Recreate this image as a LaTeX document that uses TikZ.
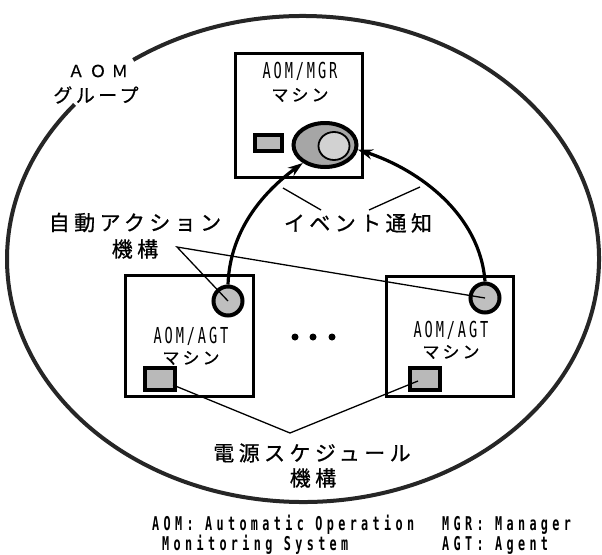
\documentclass[tikz,border=0pt]{standalone}
\usepackage{fontspec}
\usetikzlibrary{arrows.meta,shapes.geometric}
\newfontfamily\jpw[LetterSpace=21,FakeBold=0.8]{Noto Sans CJK JP}
\newfontfamily\jpm[LetterSpace=18,FakeBold=0.6]{Noto Sans CJK JP}
\newfontfamily\jpaom[LetterSpace=32,FakeBold=0.6]{Noto Sans CJK JP}
\newfontfamily\labf[FakeStretch=0.62,LetterSpace=13]{DejaVu Sans Mono}
\newfontfamily\notef[FakeStretch=0.62,LetterSpace=23]{DejaVu Sans Mono}
\tikzset{
  group/.style={line width=4pt, draw=black!85},
  machine/.style={draw, line width=2.4pt, inner sep=0pt},
  sched/.style={draw, line width=4pt, fill=gray!55, inner sep=0pt},
  act/.style={circle, draw, line width=4pt, fill=gray!50, inner sep=0pt, minimum size=29pt},
  evt/.style={line width=3.2pt, -{Stealth[length=15pt,width=10pt]}},
  leader/.style={line width=1.3pt},
  jpbig/.style={inner sep=0pt, font=\jpw\fontsize{21pt}{21pt}\selectfont},
  jpsmall/.style={inner sep=0pt, font=\jpm\fontsize{17pt}{17pt}\selectfont},
  labtxt/.style={inner sep=0pt, font=\labf\fontsize{22pt}{22pt}\selectfont},
  notetxt/.style={inner sep=0pt, font=\notef\bfseries\fontsize{19pt}{19pt}\selectfont},
  dotn/.style={circle, fill=black, inner sep=0pt, minimum size=7pt}
}
\begin{document}
\begin{tikzpicture}[x=1pt,y=-1pt]
\useasboundingbox (0,0) rectangle (602,554);
% group outline (open at upper left for the label)
\draw[group] (303,259) ++(235:296 and 243) arc[start angle=235, end angle=579.5, x radius=296, y radius=243];
\node[inner sep=0pt, font=\jpaom\fontsize{16.5pt}{16.5pt}\selectfont] (aomg) at (98,71) {ＡＯＭ};
\node[inner sep=0pt, font=\jpm\fontsize{19pt}{19pt}\selectfont] (grp) at (96,95) {グループ};

% manager machine
\node[machine, minimum width=127pt, minimum height=124pt] (mgr) at (299,115.5) {};
\node[labtxt] (mgrt) at (300,71.5) {AOM/MGR};
\node[jpsmall] (mgrm) at (300,95) {マシン};
\node[sched, minimum width=27pt, minimum height=16pt] (ms) at (268,143) {};
\node[ellipse, draw, line width=4pt, fill=gray!70, inner sep=0pt, minimum width=63pt, minimum height=44pt] (mge) at (325,145) {};
\node[ellipse, draw, line width=1.8pt, fill=gray!35, inner sep=0pt, minimum width=31pt, minimum height=28pt] (mgi) at (334,146) {};

% agent machines
\node[machine, minimum width=128pt, minimum height=121pt] (agl) at (189.5,336) {};
\node[labtxt] (aglt) at (191,336) {AOM/AGT};
\node[jpsmall] (aglm) at (191,358) {マシン};
\node[sched, minimum width=30pt, minimum height=22pt] (ls) at (160,379) {};
\node[act] (lc) at (228,301) {};

\node[machine, minimum width=127pt, minimum height=120pt] (agr) at (450,336.5) {};
\node[labtxt] (agrt) at (451,330) {AOM/AGT};
\node[jpsmall] (agrm) at (451,352) {マシン};
\node[sched, minimum width=30pt, minimum height=22pt] (rs) at (425,379) {};
\node[act] (rc) at (485,298) {};

\node[dotn] (d1) at (295,337) {};
\node[dotn] (d2) at (313,337) {};
\node[dotn] (d3) at (332,337) {};

% event notification arrows
\draw[evt] (lc.north) .. controls (230,228) and (266,190) .. (mge.219);
\draw[evt] (rc.north) .. controls (480,215) and (420,170) .. (mge.-8);

% labels and leaders
\node[jpbig] (evlbl) at (358,223) {イベント通知};
\coordinate (ev1) at (321,210);
\coordinate (ev1e) at (283,188);
\coordinate (ev2) at (369,210);
\coordinate (ev2e) at (420,187);
\draw[leader] (ev1) -- (ev1e);
\draw[leader] (ev2) -- (ev2e);

\node[jpbig] (aalbl) at (135,222.5) {自動アクション};
\node[jpbig] (aalbl2) at (135,249) {機構};
\coordinate (aa) at (177,247);
\draw[leader] (lc.center) -- (aa) -- (rc.center);

\node[jpbig] (pslbl) at (312,453) {電源スケジュール};
\node[jpbig] (pslbl2) at (313,478) {機構};
\coordinate (ps) at (290,433);
\coordinate (psl) at (173,385);
\coordinate (psr) at (418,381);
\draw[leader] (psl) -- (ps) -- (psr);

% footnote
\node[notetxt, anchor=base west] (n1) at (152,530) {AOM: Automatic Operation};
\node[notetxt, anchor=base west] (n2) at (162,550) {Monitoring System};
\node[notetxt, anchor=base west] (n3) at (442,530) {MGR: Manager};
\node[notetxt, anchor=base west] (n4) at (442,550) {AGT: Agent};
\end{tikzpicture}
\end{document}
